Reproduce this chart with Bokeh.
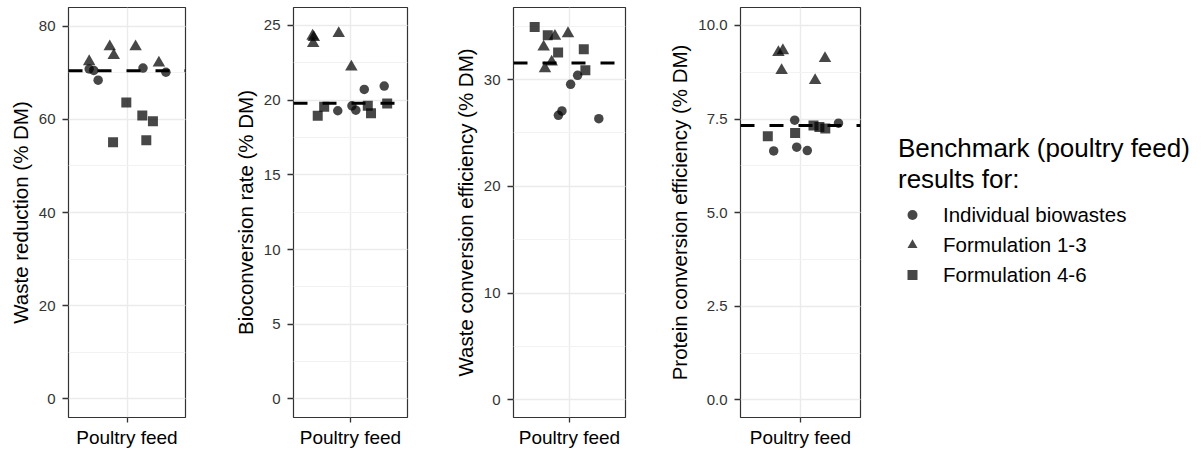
from bokeh.plotting import figure
from bokeh.layouts import row
from bokeh.models import (Range1d, SingleIntervalTicker, FixedTicker, Span, Legend,
                          LegendItem, NumeralTickFormatter)
from bokeh.embed import file_html
from bokeh.resources import INLINE

# ---------------- data ----------------
category = "Poultry feed"
group_labels = ["Individual biowastes", "Formulation 1-3", "Formulation 4-6"]
legend_title = "Benchmark (poultry feed)\nresults for:"

panel_titles = ["Waste reduction (% DM)", "Bioconversion rate (% DM)",
                "Waste conversion efficiency (% DM)", "Protein conversion efficiency (% DM)"]

# jittered x positions (category at 1) and values, per panel and group
wr_circle_x = [0.612, 0.659, 0.704, 1.164, 1.399]
wr_circle_y = [70.8, 70.5, 68.4, 71.0, 70.1]
wr_tri_x = [0.612, 0.823, 0.864, 1.088, 1.327]
wr_tri_y = [72.4, 75.6, 73.7, 75.6, 72.1]
wr_sq_x = [0.857, 0.993, 1.157, 1.198, 1.266]
wr_sq_y = [55.1, 63.6, 60.8, 55.5, 59.6]

br_circle_x = [0.866, 1.015, 1.056, 1.145, 1.355]
br_circle_y = [19.29, 19.62, 19.33, 20.72, 20.94]
br_tri_x = [0.601, 0.607, 0.614, 0.876, 1.009]
br_tri_y = [24.29, 23.80, 24.20, 24.47, 22.22]
br_sq_x = [0.655, 0.723, 1.182, 1.216, 1.386]
br_sq_y = [18.96, 19.55, 19.62, 19.13, 19.77]

wce_circle_x = [0.881, 0.919, 1.012, 1.087, 1.314]
wce_circle_y = [26.65, 27.06, 29.56, 30.40, 26.34]
wce_tri_x = [0.723, 0.737, 0.809, 0.844, 0.984]
wce_tri_y = [33.06, 31.03, 31.65, 34.06, 34.31]
wce_sq_x = [0.627, 0.767, 0.878, 1.153, 1.170]
wce_sq_y = [34.93, 34.15, 32.53, 32.84, 30.87]

pce_circle_x = [0.732, 0.942, 0.962, 1.068, 1.380]
pce_circle_y = [6.65, 7.47, 6.75, 6.66, 7.39]
pce_tri_x = [0.779, 0.824, 0.811, 1.146, 1.245]
pce_tri_y = [9.28, 9.33, 8.80, 8.53, 9.12]
pce_sq_x = [0.673, 0.946, 1.130, 1.189, 1.248]
pce_sq_y = [7.04, 7.13, 7.33, 7.29, 7.25]

benchmark = [70.4, 19.8, 31.56, 7.33]
y_limits = [(-4.0, 84.0), (-1.24, 26.2), (-1.65, 36.75), (-0.47, 10.48)]
y_tick_step = [20, 5, 10, 2.5]

FONT = "Liberation Sans"
MARK = "black"
MARK_ALPHA = 0.72

# layout geometry (figure width, left border, right border, top, bottom)
geom = [(230, 68, 45, 7, 33), (220, 59, 43, 7, 33), (215, 59, 40, 7, 38), (215, 73, 20, 7, 38)]

panels = [
    (wr_circle_x, wr_circle_y, wr_tri_x, wr_tri_y, wr_sq_x, wr_sq_y),
    (br_circle_x, br_circle_y, br_tri_x, br_tri_y, br_sq_x, br_sq_y),
    (wce_circle_x, wce_circle_y, wce_tri_x, wce_tri_y, wce_sq_x, wce_sq_y),
    (pce_circle_x, pce_circle_y, pce_tri_x, pce_tri_y, pce_sq_x, pce_sq_y),
]

figs = []
for i, (cx, cy, tx, ty, sx, sy) in enumerate(panels):
    w, bl, br, bt, bb = geom[i]
    p = figure(width=w, height=455, x_range=Range1d(0.4, 1.6), y_range=Range1d(*y_limits[i]),
               output_backend="svg", toolbar_location=None,
               min_border_left=bl, min_border_right=br, min_border_top=bt, min_border_bottom=bb)
    p.outline_line_color = "#333333"
    p.outline_line_width = 1.2
    p.background_fill_color = "white"
    p.border_fill_color = "white"

    # grids
    p.xaxis.ticker = FixedTicker(ticks=[1])
    p.xaxis.major_label_overrides = {1: category}
    p.yaxis.ticker = SingleIntervalTicker(interval=y_tick_step[i], num_minor_ticks=2)
    if i == 3:
        p.yaxis.formatter = NumeralTickFormatter(format="0.0")
    p.xgrid.grid_line_color = "#EBEBEB"
    p.xgrid.grid_line_width = 1.4
    p.ygrid.grid_line_color = "#EBEBEB"
    p.ygrid.grid_line_width = 1.4
    p.ygrid.minor_grid_line_color = "#F2F2F2"
    p.ygrid.minor_grid_line_width = 1.0

    for ax in (p.xaxis[0], p.yaxis[0]):
        ax.axis_line_color = None
        ax.major_tick_line_color = "#333333"
        ax.major_tick_line_width = 1.3
        ax.major_tick_in = 0
        ax.minor_tick_line_color = None
        ax.major_label_text_font = FONT
    p.xaxis.major_tick_out = 5
    p.xaxis.major_label_standoff = 4
    p.xaxis.major_label_text_font_size = "19px"
    p.xaxis.major_label_text_color = "black"
    p.yaxis.major_tick_out = 6
    p.yaxis.major_label_standoff = 7
    p.yaxis.major_label_text_font_size = "15px"
    p.yaxis.major_label_text_color = "#333333"
    p.yaxis.axis_label = panel_titles[i]
    p.yaxis.axis_label_text_font = FONT
    p.yaxis.axis_label_text_font_size = "20.5px"
    p.yaxis.axis_label_text_font_style = "normal"
    p.yaxis.axis_label_text_color = "black"
    p.yaxis.axis_label_standoff = 4

    p.add_layout(Span(location=benchmark[i], dimension="width", line_color="black",
                      line_width=3, line_dash="14 15"))

    p.scatter(cx, cy, marker="circle", size=9.5, fill_color=MARK, fill_alpha=MARK_ALPHA, line_color=None)
    p.scatter(tx, ty, marker="triangle", size=12.5, fill_color=MARK, fill_alpha=MARK_ALPHA, line_color=None)
    p.scatter(sx, sy, marker="square", size=10, fill_color=MARK, fill_alpha=MARK_ALPHA, line_color=None)
    figs.append(p)

# legend panel (legend glyphs come from hidden copies of the first panel's series)
lg = figure(width=323, height=455, x_range=Range1d(0, 1), y_range=Range1d(0, 1),
            output_backend="svg", toolbar_location=None,
            min_border_left=0, min_border_right=0, min_border_top=0, min_border_bottom=0)
lg.axis.visible = False
lg.grid.visible = False
lg.outline_line_color = None
markers = ["circle", "triangle", "square"]
series_for_legend = [(wr_circle_x, wr_circle_y), (wr_tri_x, wr_tri_y), (wr_sq_x, wr_sq_y)]
items = []
for lab, mk, (xs, ys) in zip(group_labels, markers, series_for_legend):
    r = lg.scatter(x=xs, y=ys, marker=mk, size=10, fill_color=MARK, fill_alpha=MARK_ALPHA,
                   line_color=None, visible=False)
    items.append(LegendItem(label=lab, renderers=[r]))
legend = Legend(items=items, location=(18, 130), title=legend_title,
                border_line_color=None, background_fill_alpha=0, padding=0, margin=0,
                spacing=5, glyph_width=28, glyph_height=25, label_height=25, label_standoff=17,
                label_text_font=FONT, label_text_font_size="20.5px", label_text_color="black",
                title_text_font=FONT, title_text_font_size="26px", title_text_font_style="normal",
                title_text_color="black", title_text_line_height=1.05, title_standoff=7,
                inactive_fill_alpha=0, click_policy="none")
lg.add_layout(legend)
figs.append(lg)

layout = row(*figs, spacing=0)
open("out.html", "w").write(file_html(layout, INLINE))
